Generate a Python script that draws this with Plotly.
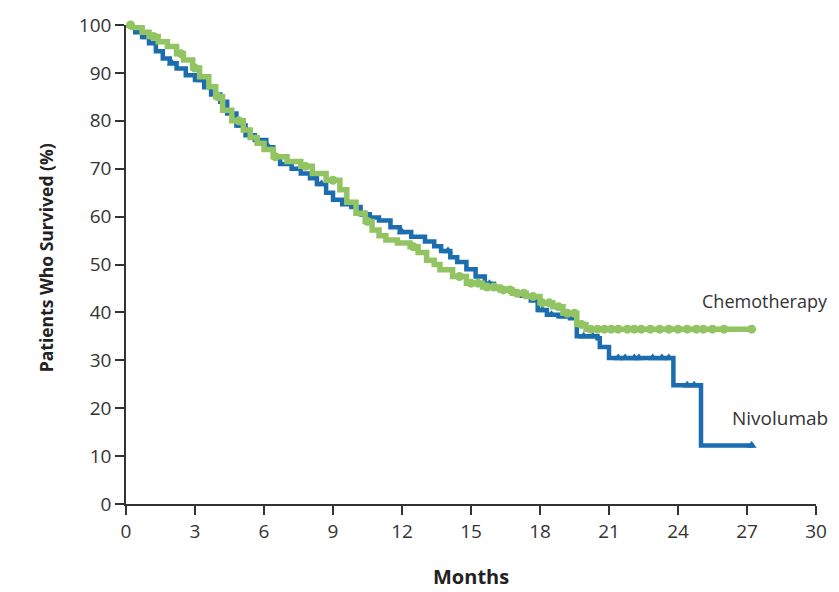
import numpy as np
import plotly.graph_objects as go

# Kaplan-Meier step data (months, % surviving)
nivo_t = [0, 0.4, 0.7, 1.0, 1.3, 1.6, 1.9, 2.2, 2.6, 3.0, 3.4, 3.7, 4.1, 4.4, 4.8, 5.2, 5.6, 6.1,
          6.4, 6.7, 7.2, 7.6, 8.0, 8.3, 8.7, 9.0, 9.4, 9.8, 10.2, 10.6, 11.0, 11.5, 11.9, 12.4,
          13.0, 13.4, 13.7, 14.1, 14.4, 14.8, 15.2, 15.6, 16.0, 16.4, 16.8, 17.2, 17.6, 17.9,
          18.3, 18.8, 19.3, 19.6, 20.5, 20.6, 21.0, 23.8, 25.0, 27.3]
nivo_s = [100, 98.5, 97.5, 96.2, 94.5, 93.0, 92.0, 90.9, 89.5, 88.5, 87.0, 85.5, 84.0, 81.5, 79.0,
          77.0, 76.0, 74.5, 72.5, 71.0, 70.0, 69.0, 68.0, 66.8, 65.0, 63.5, 62.6, 62.0, 60.5, 59.8,
          59.2, 57.8, 56.8, 55.8, 54.8, 53.8, 52.8, 51.5, 50.5, 49.0, 47.5, 46.0, 45.0, 44.6, 44.0,
          43.5, 42.5, 40.5, 39.5, 39.2, 38.8, 35.0, 34.6, 32.8, 30.5, 24.8, 12.2, 12.2]

chemo_t = [0, 0.3, 0.7, 1.0, 1.4, 1.8, 2.2, 2.5, 2.9, 3.2, 3.6, 3.9, 4.2, 4.6, 5.1, 5.4, 5.7, 6.0,
           6.4, 7.0, 7.6, 8.1, 8.7, 9.3, 9.6, 10.0, 10.4, 10.7, 11.0, 11.3, 11.8, 12.35, 12.7,
           13.07, 13.4, 13.65, 14.2, 14.8, 15.5, 16.26, 16.8, 17.4, 18.0, 18.56, 19.0, 19.6,
           20.0, 27.3]
chemo_s = [100, 99.5, 98.5, 97.6, 96.5, 95.5, 94.0, 92.7, 91.0, 89.2, 87.1, 85.0, 82.2, 80.0, 78.1,
           76.5, 75.3, 74.0, 72.5, 71.5, 70.5, 69.0, 67.6, 65.6, 63.0, 60.7, 59.0, 57.2, 56.0, 55.1,
           54.5, 53.7, 52.5, 50.9, 50.0, 48.9, 47.5, 46.1, 45.3, 44.7, 44.0, 43.3, 42.0, 41.2, 39.8,
           37.5, 36.5, 36.5]

# censoring times (months)
nivo_cens = [0.9, 2.0, 3.3, 5.0, 6.2, 8.5, 10.4, 12.0, 14.0, 15.8, 16.6, 17.0, 17.4, 18.1, 18.5,
             19.0, 19.9, 20.3, 21.4, 21.7, 22.1, 22.3, 22.9, 23.3, 23.6, 24.4, 24.7, 27.2]
chemo_cens = [0.2, 1.2, 2.4, 3.0, 4.0, 4.9, 6.5, 7.8, 9.0, 10.5, 12.5, 14.5, 15.0, 15.3, 15.7,
              16.0, 16.4, 16.7, 17.0, 17.3, 17.7, 18.1, 18.4, 18.8, 19.2, 19.5, 19.8, 20.2,
              20.5, 20.8, 21.1, 21.4, 21.8, 22.1, 22.4, 22.8, 23.2, 23.6, 24.0, 24.4, 24.8,
              25.1, 25.5, 26.0, 27.2]

x_ticks = [0, 3, 6, 9, 12, 15, 18, 21, 24, 27, 30]
y_ticks = [0, 10, 20, 30, 40, 50, 60, 70, 80, 90, 100]

BLUE = "#1c6db0"
GREEN = "#93c463"
FONT = "Open Sans, Lato, sans-serif"


def step_value(times, surv, t):
    idx = np.searchsorted(np.asarray(times), t, side="right") - 1
    return np.asarray(surv)[np.clip(idx, 0, len(surv) - 1)]


fig = go.Figure()
fig.add_trace(go.Scatter(x=nivo_t, y=nivo_s, mode="lines", line=dict(color=BLUE, width=4.5, shape="hv"),
                         cliponaxis=False, showlegend=False))
fig.add_trace(go.Scatter(x=nivo_cens, y=step_value(nivo_t, nivo_s, np.array(nivo_cens)), mode="markers",
                         marker=dict(symbol="triangle-up", size=9, color=BLUE),
                         cliponaxis=False, showlegend=False))
fig.add_trace(go.Scatter(x=chemo_t, y=chemo_s, mode="lines", line=dict(color=GREEN, width=5.5, shape="hv"),
                         cliponaxis=False, showlegend=False))
fig.add_trace(go.Scatter(x=chemo_cens, y=step_value(chemo_t, chemo_s, np.array(chemo_cens)), mode="markers",
                         marker=dict(symbol="circle", size=9, color=GREEN),
                         cliponaxis=False, showlegend=False))

# curve labels
fig.add_annotation(x=1.02, y=42.3, xref="paper", yref="y", text="Chemotherapy", showarrow=False,
                   xanchor="right", yanchor="middle",
                   font=dict(family=FONT, size=18, color="#333333"))
fig.add_annotation(x=1.02, y=18.0, xref="paper", yref="y", text="Nivolumab", showarrow=False,
                   xanchor="right", yanchor="middle",
                   font=dict(family=FONT, size=19, color="#333333"))
# axis titles
fig.add_annotation(x=0.5, y=-0.152, xref="paper", yref="paper", text="<b>Months</b>", showarrow=False,
                   xanchor="center", yanchor="middle",
                   font=dict(family=FONT, size=20, color="#222222"))
fig.add_annotation(x=-0.116, y=0.515, xref="paper", yref="paper", text="<b>Patients Who Survived (%)</b>",
                   showarrow=False, textangle=-90, xanchor="center", yanchor="middle",
                   font=dict(family=FONT, size=17.5, color="#222222"))

axis_common = dict(showgrid=False, zeroline=False, showline=True, linecolor="#333333", linewidth=1.5,
                   ticks="outside", ticklen=9, tickwidth=1.5, tickcolor="#333333", automargin=False)

fig.update_xaxes(range=[0, 30], tickvals=x_ticks, ticktext=[str(v) for v in x_ticks],
                 tickfont=dict(family=FONT, size=19, color="#333333"), **axis_common)
fig.update_yaxes(range=[0, 100], tickvals=y_ticks, ticktext=[str(v) for v in y_ticks],
                 tickfont=dict(family=FONT, size=19, color="#333333"), **axis_common)

# the page adds an 8 px body margin, so the figure is sized to fit the 839x592 window
fig.update_layout(width=831, height=584, margin=dict(l=118, r=23, t=17, b=88),
                  plot_bgcolor="white", paper_bgcolor="white")

fig.write_html("out.html")
